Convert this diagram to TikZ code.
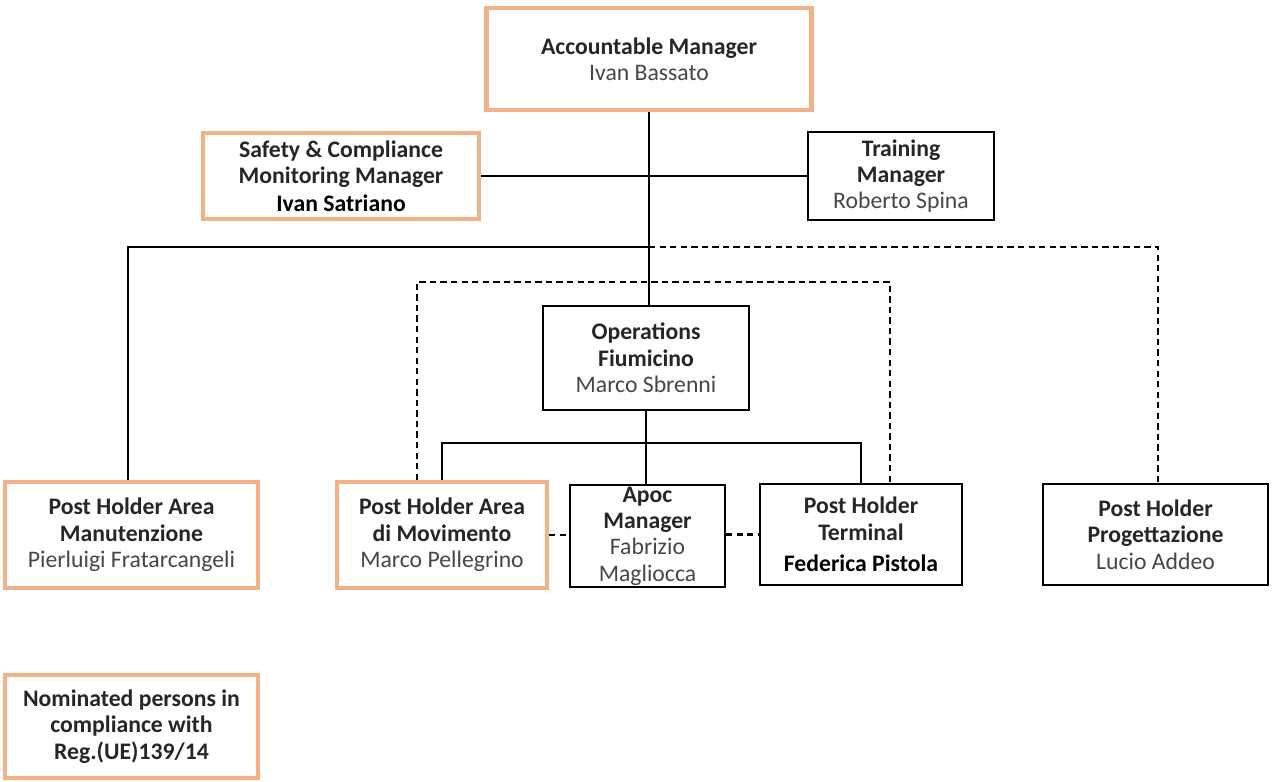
\documentclass[tikz,border=0pt]{standalone}
\usepackage{fontspec}
\setmainfont{Carlito}
\usepackage{tikz}
\usetikzlibrary{calc}
\definecolor{nomorange}{RGB}{242,178,136}
\definecolor{titlegray}{RGB}{38,38,38}
\definecolor{namegray}{RGB}{70,70,70}
\newcommand{\ttl}[1]{\textbf{\color{titlegray}#1}}
\newcommand{\nme}[1]{{\color{namegray}#1}}

\begin{document}
\begin{tikzpicture}[x=0.02cm,y=-0.02cm,inner sep=1pt,
  font=\fontsize{13.5}{15}\selectfont,
  role/.style={draw=black,line width=1.1pt,fill=white,align=center,rectangle},
  nominee/.style={role,draw=nomorange,line width=2.4pt},
  link/.style={line width=1.4pt},
  dashlink/.style={line width=1.4pt,dash pattern=on 3.6pt off 2.4pt}]
\useasboundingbox (0,0) rectangle (1274,781);
\draw node [nominee,minimum width=6.5cm,minimum height=2.04cm] (AM) at (649,59) {\ttl{Accountable Manager}\\\nme{Ivan Bassato}};
\draw node [nominee,minimum width=5.52cm,minimum height=1.72cm] (SCM) at (341,176) {\ttl{Safety \& Compliance}\\\ttl{Monitoring Manager}\\[1pt]\textbf{Ivan Satriano}};
\draw node [role,minimum width=3.72cm,minimum height=1.76cm] (TM) at (901,176) {\ttl{Training}\\\ttl{Manager}\\\nme{Roberto Spina}};
\draw node [role,minimum width=4.12cm,minimum height=2.08cm] (OPS) at (646,358) {\ttl{Operations}\\\ttl{Fiumicino}\\\nme{Marco Sbrenni}};
\draw node [nominee,minimum width=5.06cm,minimum height=2.12cm] (PHM) at (131.5,535) {\ttl{Post Holder Area}\\\ttl{Manutenzione}\\\nme{Pierluigi Fratarcangeli}};
\draw node [nominee,minimum width=4.2cm,minimum height=2.12cm] (PHMov) at (442,535) {\ttl{Post Holder Area}\\\ttl{di Movimento}\\\nme{Marco Pellegrino}};
\draw node [role,minimum width=3.1cm,minimum height=2.02cm] (APOC) at (647.5,536) {\ttl{Apoc}\\\ttl{Manager}\\\nme{Fabrizio}\\\nme{Magliocca}};
\draw node [role,minimum width=4.04cm,minimum height=2.02cm] (PHT) at (861,534.5) {\ttl{Post Holder}\\\ttl{Terminal}\\[3pt]\textbf{Federica Pistola}};
\draw node [role,minimum width=4.5cm,minimum height=2.02cm] (PHP) at (1155.5,534.5) {\ttl{Post Holder}\\\ttl{Progettazione}\\\nme{Lucio Addeo}};
\draw node [nominee,minimum width=5.06cm,minimum height=2.06cm] (NOM) at (131.5,726.5) {\ttl{Nominated persons in}\\\ttl{compliance with}\\\ttl{Reg.(UE)139/14}};
\coordinate (J1) at (649,247);
\coordinate (J2) at (649,443);
\coordinate (DT) at (0,282);
\draw [link] (AM.south) -- (AM.south |- OPS.north);
\draw [link] (SCM.east) -- (SCM.east -| TM.west);
\draw [link] (J1) -| ([xshift=-0.07cm]PHM.north);
\draw [dashlink] (J1) -| ([xshift=0.05cm]PHP.north);
\draw [dashlink] ([xshift=-0.5cm]PHMov.north) |- ([xshift=0.58cm]PHT.north |- DT) -- ([xshift=0.58cm]PHT.north);
\draw [link] (OPS.south) -- (OPS.south |- APOC.north);
\draw [link] (PHMov.north) |- (PHT.north |- J2) -- (PHT.north);
\draw [dashlink] (PHMov.east) -- (PHMov.east -| APOC.west);
\draw [dashlink] (APOC.east |- PHT.west) -- (PHT.west);
\end{tikzpicture}
\end{document}
